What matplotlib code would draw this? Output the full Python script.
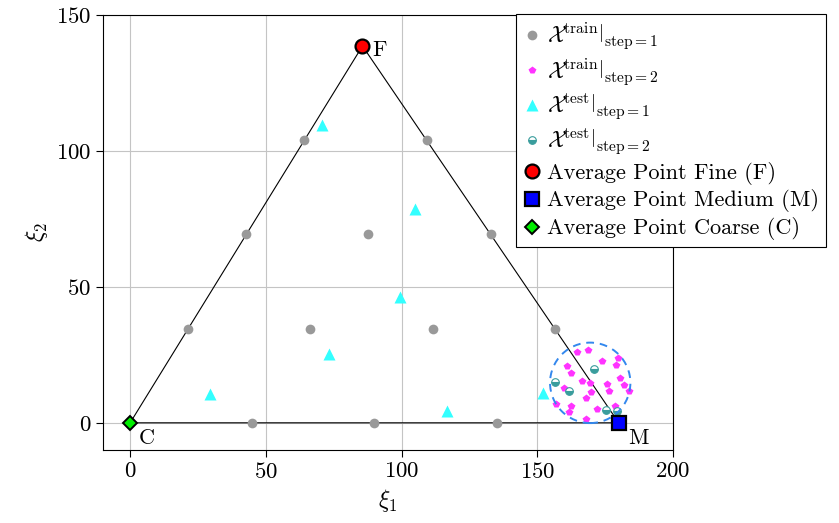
import numpy as np
import matplotlib
matplotlib.use("Agg")
import matplotlib.pyplot as plt

plt.rcParams['font.family'] = 'serif'
plt.rcParams['font.serif'] = ['cmr10']
plt.rcParams['mathtext.fontset'] = 'cm'
plt.rcParams['axes.formatter.use_mathtext'] = True
plt.rcParams['font.size'] = 16.5

# average points (vertices of the triangle)
fine = (85.6, 138.6)
medium = (180.0, 0.0)
coarse = (0.0, 0.0)

# training points, step 1 (grid inside the triangle)
train1_x = [45, 90, 135, 21.4, 66.4, 111.4, 156.4, 42.8, 87.8, 132.8, 64.2, 109.2]
train1_y = [0, 0, 0, 34.6, 34.6, 34.6, 34.6, 69.3, 69.3, 69.3, 104.0, 104.0]

# training points, step 2 (cluster near M)
train2_x = [164.6, 168.6, 179.7, 173.8, 160.9, 178.9, 162.4, 180.3, 166.3, 169.6, 175.7, 182.0,
            159.7, 176.6, 183.8, 169.9, 167.8, 156.9, 162.5, 178.7, 171.9, 161.5, 168.1]
train2_y = [26.2, 26.8, 23.8, 22.9, 20.8, 21.1, 18.3, 16.6, 15.5, 14.6, 14.3, 13.9,
            12.8, 11.8, 11.8, 11.5, 9.1, 7.1, 6.2, 6.3, 5.2, 3.9, 1.4]

# test points
test1_x = [70.6, 105.1, 99.3, 73.2, 29.4, 116.9, 152.2]
test1_y = [109.5, 78.5, 46.4, 25.4, 10.7, 4.4, 11.1]
test2_x = [171.0, 156.7, 161.7, 175.4, 179.4]
test2_y = [19.8, 15.1, 11.8, 4.7, 4.4]

# refinement region
circ_center = (169.5, 14.7)
circ_radius = 14.8

fig = plt.figure(figsize=(8.39, 5.23), dpi=100)
ax = fig.add_axes([103 / 839, 73 / 523, 570 / 839, 435 / 523])

tri_x = [coarse[0], medium[0], fine[0], coarse[0]]
tri_y = [coarse[1], medium[1], fine[1], coarse[1]]
ax.plot(tri_x, tri_y, color='black', lw=0.8, zorder=2)

ax.plot(train1_x, train1_y, 'o', color='#999999', ms=7, mec='none', zorder=3,
        label=r'$\left.\mathcal{X}^{\mathrm{train}}\right|_{\mathrm{step}=1}$')
ax.plot(train2_x, train2_y, 'p', color='#ff33ff', ms=6, mec='none', zorder=3,
        label=r'$\left.\mathcal{X}^{\mathrm{train}}\right|_{\mathrm{step}=2}$')
ax.plot(test1_x, test1_y, '^', color='#33ffff', ms=8.5, mec='none', zorder=3,
        label=r'$\left.\mathcal{X}^{\mathrm{test}}\right|_{\mathrm{step}=1}$')
ax.plot(test2_x, test2_y, 'o', color='#3a9d9d', ms=5.5, fillstyle='bottom',
        markerfacecoloralt='white', mec='#3a9d9d', mew=0.8, zorder=3,
        label=r'$\left.\mathcal{X}^{\mathrm{test}}\right|_{\mathrm{step}=2}$')

ax.plot(*fine, 'o', color='red', ms=10, mec='black', mew=1.6, zorder=5,
        label='Average Point Fine (F)')
ax.plot(*medium, 's', color='blue', ms=10, mec='black', mew=1.6, zorder=5,
        label='Average Point Medium (M)')
ax.plot(*coarse, 'D', color='#00ee00', ms=7, mec='black', mew=1.4, zorder=5,
        label='Average Point Coarse (C)')

circle = plt.Circle(circ_center, circ_radius, fill=False, ls=(0, (4, 3)),
                    color='#3388ee', lw=1.4, zorder=4)
ax.add_patch(circle)

ax.annotate('F', fine, xytext=(7, -7), textcoords='offset points', fontsize=16)
ax.annotate('M', medium, xytext=(7, -15), textcoords='offset points', fontsize=16)
ax.annotate('C', coarse, xytext=(6, -15), textcoords='offset points', fontsize=16)

ax.set_xlim(-10, 200)
ax.set_ylim(-10, 150)
ax.set_xticks([0, 50, 100, 150, 200])
ax.set_yticks([0, 50, 100, 150])
ax.grid(True, color='#c4c4c4', lw=0.8)
ax.set_axisbelow(True)
ax.tick_params(direction='out', length=5, width=0.8)
for s in ax.spines.values():
    s.set_linewidth(0.8)
ax.set_xlabel(r'$\xi_1$', fontsize=17)
ax.set_ylabel(r'$\xi_2$', fontsize=17)

leg = ax.legend(loc='upper left', bbox_to_anchor=(516 / 839, 1 - 14 / 523),
                bbox_transform=fig.transFigure, fancybox=False, framealpha=1,
                edgecolor='black', fontsize=16, handlelength=0.8, handletextpad=0.3,
                borderpad=0.3, labelspacing=0.22, borderaxespad=0)
leg.get_frame().set_linewidth(0.8)

fig.savefig('out.png', dpi=100)
